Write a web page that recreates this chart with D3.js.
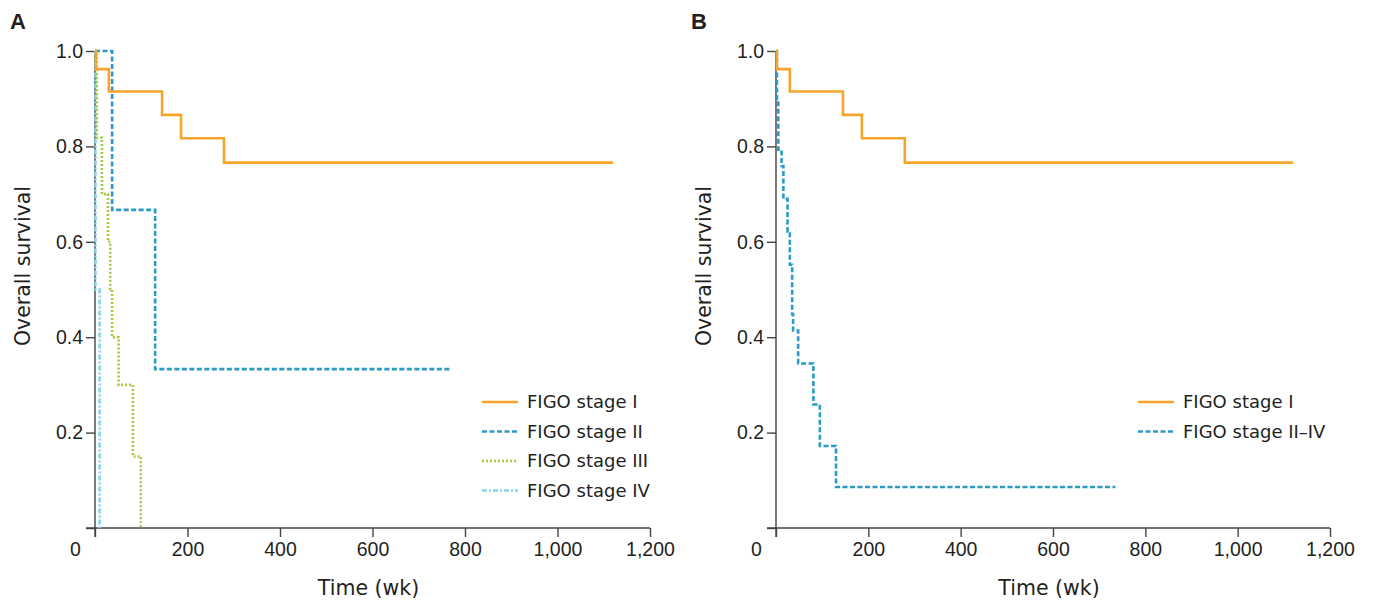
<!DOCTYPE html>
<html>
<head>
<meta charset="utf-8">
<script src="https://cdn.jsdelivr.net/npm/d3@7"></script>
<style>
  body { margin: 0; background: #fff; }
  svg text { fill: #231f20; }
</style>
</head>
<body>
<div id="chart"></div>
<script>
// axis ticks
var xTicks = [0, 200, 400, 600, 800, 1000, 1200];
var yTicks = [0, 0.2, 0.4, 0.6, 0.8, 1.0];

// panel A: Kaplan-Meier steps (time in wk, survival)
var stageI_t = [0, 2, 30, 145, 186, 279, 1120];
var stageI_s = [1, 0.962, 0.915, 0.866, 0.817, 0.766, 0.766];
var stageII_t = [0, 37, 130, 768];
var stageII_s = [1, 0.667, 0.333, 0.333];
var stageIII_t = [0, 4, 15, 28, 33, 37, 51, 82, 99];
var stageIII_s = [1, 0.818, 0.7, 0.6, 0.5, 0.4, 0.3, 0.15, 0];
var stageIV_t = [0, 1, 10];
var stageIV_s = [1, 0.5, 0];

// panel B
var stageII_IV_t = [0, 2, 5, 12, 16, 25, 30, 35, 37, 48, 81, 95, 130, 735];
var stageII_IV_s = [1, 0.9, 0.793, 0.759, 0.69, 0.621, 0.552, 0.448, 0.414, 0.345, 0.259, 0.172, 0.086, 0.086];

var labelsA = ["FIGO stage I", "FIGO stage II", "FIGO stage III", "FIGO stage IV"];
var labelsB = ["FIGO stage I", "FIGO stage II\u2013IV"];

var colors = { I: "#f7a42d", II: "#2a9ac8", III: "#a6c93a", IV: "#86d3ef" };
var dashes = { I: null, II: "5,2.5", III: "2,2", IV: "5,2,2,2" };
var textFont = "'DejaVu Sans', Verdana, sans-serif";

function zip(t, s) { return t.map(function(d, i) { return { t: d, s: s[i] }; }); }

var svg = d3.select("#chart").append("svg")
  .attr("width", 1375)
  .attr("height", 602);

function panel(letter, left, right, series, legendX) {
  var x = d3.scaleLinear().domain([0, 1200]).range([left, right]);
  var y = d3.scaleLinear().domain([0, 1]).range([528, 51]);
  var g = svg.append("g");

  // y axis
  var ya = g.append("g")
    .attr("transform", "translate(" + left + ",0)")
    .call(d3.axisLeft(y).tickValues(yTicks).tickSize(9).tickSizeOuter(0)
      .tickFormat(function(d) { return d === 0 ? "" : d3.format(".1f")(d); }));
  // x axis
  var xa = g.append("g")
    .attr("transform", "translate(0,528)")
    .call(d3.axisBottom(x).tickValues(xTicks).tickSize(9).tickSizeOuter(0)
      .tickFormat(d3.format(",")));
  [ya, xa].forEach(function(a) {
    a.selectAll("path, line").attr("stroke", "#444").attr("stroke-width", 1.4);
    a.selectAll("text").style("font-family", "'Liberation Sans', Arial, sans-serif")
      .style("font-size", "19.5px").attr("fill", "#231f20");
  });
  ya.select(".domain").attr("d", "M0," + y(1) + "V" + 537);
  xa.select(".domain").attr("d", "M" + (left - 9) + ",0H" + right);
  ya.selectAll(".tick text").attr("x", -12);
  xa.selectAll(".tick text").attr("y", 14);
  xa.selectAll(".tick").filter(function(d) { return d === 0; }).select("text").attr("x", -20);

  // titles
  g.append("text")
    .attr("transform", "translate(" + (left - 65) + ",266) rotate(-90)")
    .attr("text-anchor", "middle")
    .style("font-family", textFont)
    .style("font-size", "20.5px")
    .text("Overall survival");
  g.append("text")
    .attr("x", (left + right) / 2 - 4)
    .attr("y", 595)
    .attr("text-anchor", "middle")
    .style("font-family", textFont)
    .style("font-size", "20.5px")
    .text("Time (wk)");
  g.append("text")
    .attr("x", left - 85)
    .attr("y", 29)
    .style("font-family", "'Liberation Sans', Arial, sans-serif")
    .style("font-weight", "bold")
    .style("font-size", "22px")
    .text(letter);

  var line = d3.line()
    .x(function(d) { return x(d.t); })
    .y(function(d) { return y(d.s); })
    .curve(d3.curveStepAfter);

  series.slice().reverse().forEach(function(s) {
    g.append("path")
      .datum(zip(s.t, s.s))
      .attr("d", line)
      .attr("fill", "none")
      .attr("stroke", colors[s.key])
      .attr("stroke-width", 2.6)
      .attr("stroke-dasharray", dashes[s.key]);
  });

  // legend
  var lg = g.append("g");
  series.forEach(function(s, i) {
    var yy = 402 + i * 29.5;
    lg.append("line")
      .attr("x1", legendX).attr("x2", legendX + 36)
      .attr("y1", yy).attr("y2", yy)
      .attr("stroke", colors[s.key])
      .attr("stroke-width", 2.6)
      .attr("stroke-dasharray", dashes[s.key]);
    lg.append("text")
      .attr("x", legendX + 45)
      .attr("y", yy)
      .attr("dy", "0.36em")
      .style("font-family", textFont)
      .style("font-size", "18px")
      .text(s.label);
  });
}

panel("A", 95, 650, [
  { key: "I", t: stageI_t, s: stageI_s, label: labelsA[0] },
  { key: "II", t: stageII_t, s: stageII_s, label: labelsA[1] },
  { key: "III", t: stageIII_t, s: stageIII_s, label: labelsA[2] },
  { key: "IV", t: stageIV_t, s: stageIV_s, label: labelsA[3] }
], 482);

panel("B", 776, 1330, [
  { key: "I", t: stageI_t, s: stageI_s, label: labelsB[0] },
  { key: "II", t: stageII_IV_t, s: stageII_IV_s, label: labelsB[1] }
], 1138);
</script>
</body>
</html>
